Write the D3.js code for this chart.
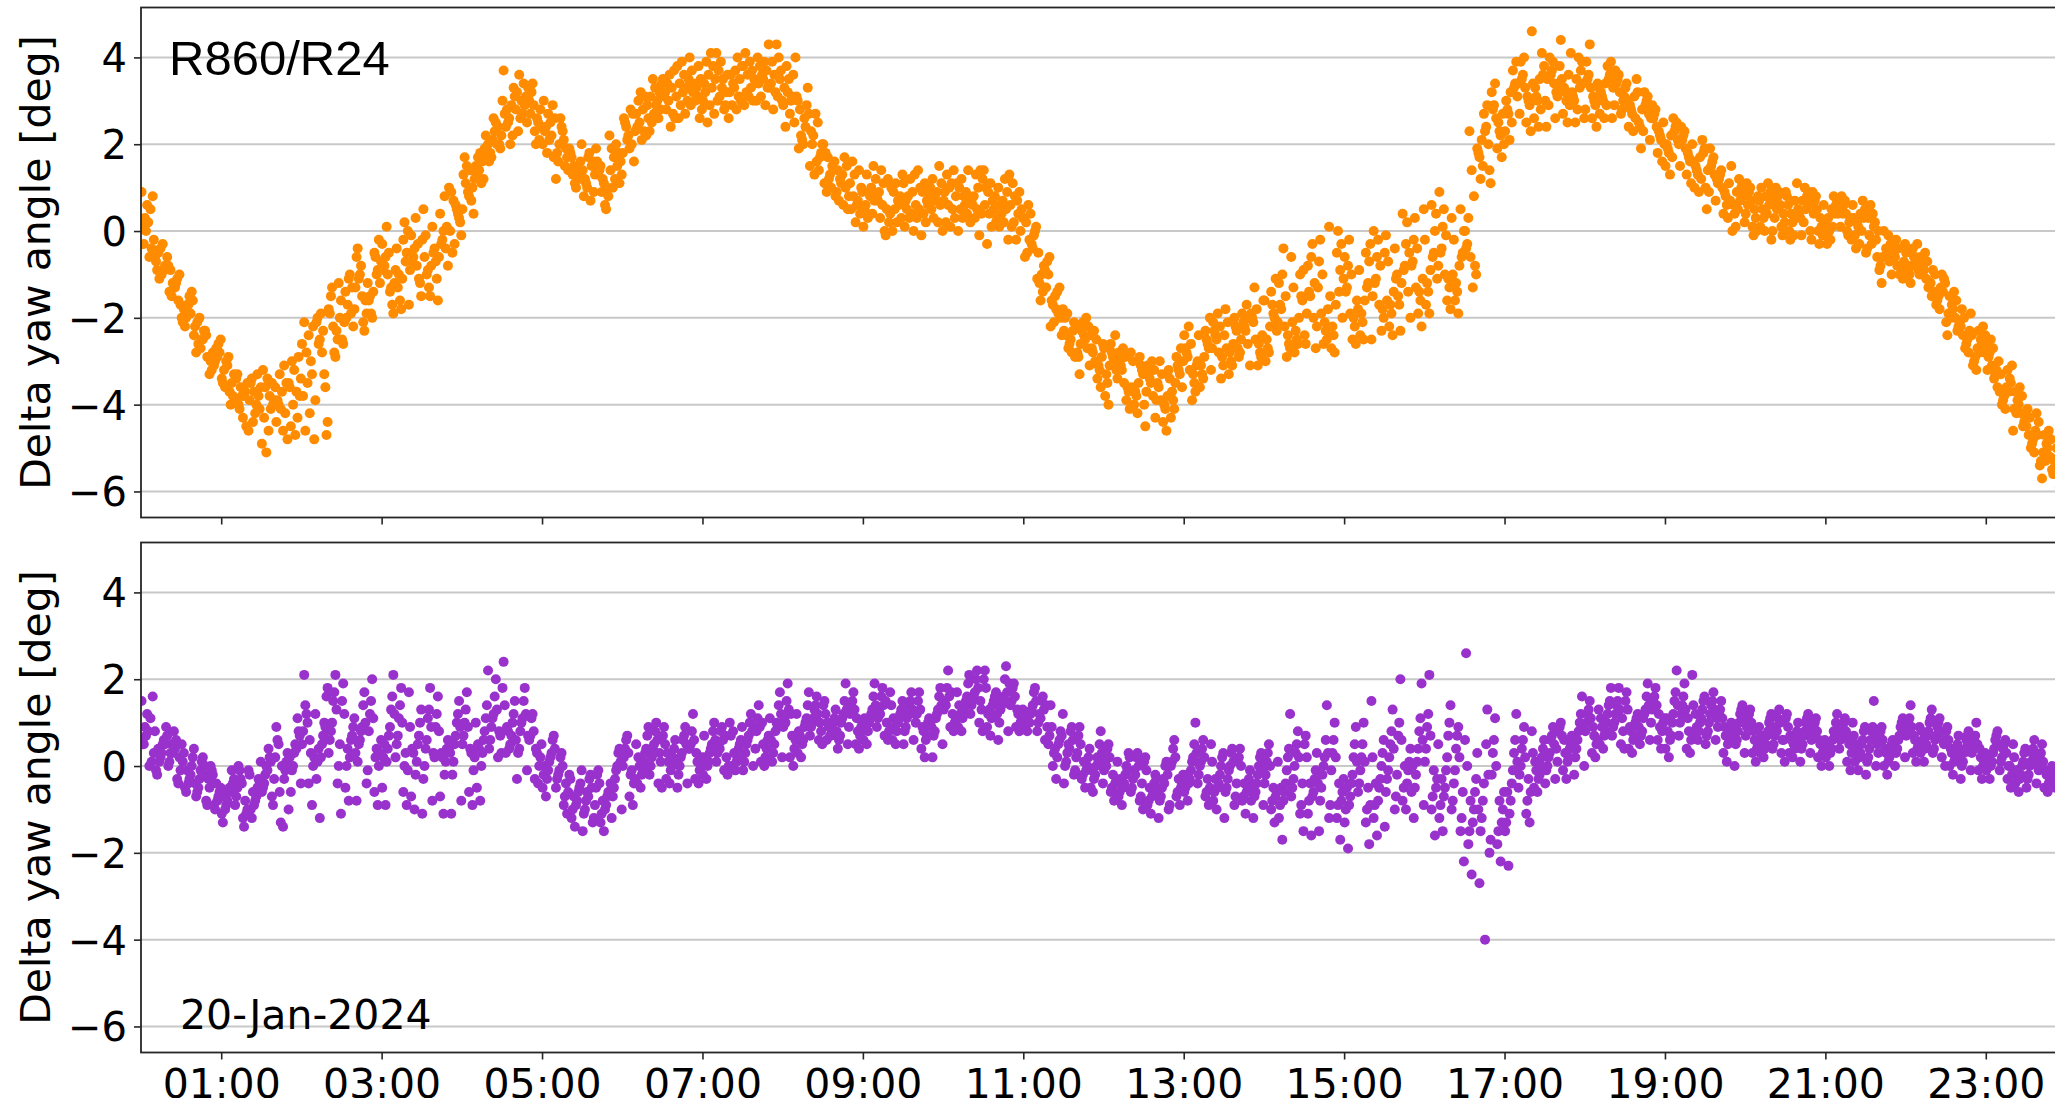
<!DOCTYPE html>
<html>
<head>
<meta charset="utf-8">
<script src="https://cdn.jsdelivr.net/npm/d3@7"></script>
<style>
  html, body { margin: 0; padding: 0; background: #ffffff; }
  svg { display: block; }
</style>
</head>
<body>
<svg id="chart" width="2055" height="1098"></svg>
<script>
// ---- Data ---------------------------------------------------------------
// Day of the measurements (UTC). Each row holds the samples of one
// 10-minute block (block 0 starts at 00:00).
const dayLabel = "20-Jan-2024";
const blockMinutes = 10;

// Delta yaw angle [deg], receiver pair R860/R24 (upper panel)
const yawR860 = [
[0.9,0.6,0.8,0.3,0.5,0.1,0.2,-0.2,0.0,-0.4,-0.3,-0.6],
[-0.3,-0.6,-0.4,-0.8,-0.5,-0.9,-0.7,-1.0,-0.6,-1.1,-0.8,-0.9],
[-0.9,-1.2,-0.8,-1.3,-1.0,-1.5,-1.1,-1.4,-1.3,-1.7,-1.2,-1.6],
[-1.4,-1.8,-1.5,-2.0,-1.7,-1.6,-2.2,-1.9,-2.1,-1.7,-2.4,-2.0],
[-2.0,-2.3,-2.1,-2.5,-2.2,-2.7,-2.4,-2.6,-2.3,-2.8,-2.5,-2.9],
[-2.5,-2.8,-2.6,-3.0,-2.7,-2.9,-3.1,-2.8,-3.2,-2.9,-3.3,-3.0],
[-2.9,-3.3,-3.0,-3.5,-3.2,-3.7,-3.4,-3.1,-3.8,-3.6,-4.0,-3.5],
[-3.4,-3.8,-3.5,-4.1,-3.7,-3.3,-4.3,-3.9,-3.6,-4.5,-4.0,-3.8],
[-3.3,-3.9,-4.2,-3.6,-4.4,-3.8,-3.5,-4.0,-4.6,-3.7,-4.1,-3.4],
[-3.6,-4.1,-3.2,-4.6,-3.9,-5.1,-3.5,-4.3,-3.8,-4.9,-3.4,-4.0],
[-3.5,-4.0,-3.1,-4.4,-3.7,-4.8,-3.3,-4.2,-3.9,-4.6,-3.6,-4.1],
[-3.2,-3.8,-3.0,-4.3,-3.6,-4.7,-3.4,-4.0,-2.9,-4.5,-3.7,-3.5],
[-2.6,-3.5,-2.2,-4.6,-3.0,-3.8,-2.4,-4.8,-2.8,-3.3,-2.1,-4.2],
[-2.3,-3.9,-1.9,-4.7,-2.6,-3.3,-2.1,-2.8,-4.4,-2.5,-3.6,-2.0],
[-1.5,-2.3,-1.8,-2.8,-2.0,-1.3,-2.5,-1.9,-2.9,-1.6,-2.2,-1.2],
[-1.3,-2.1,-1.0,-2.5,-1.7,-2.2,-1.4,-1.9,-2.6,-1.1,-1.8,-2.0],
[-1.0,-1.6,-0.4,-2.1,-1.3,-0.8,-1.9,-1.1,-2.3,-0.6,-1.5,-1.2],
[-0.7,-1.4,-0.2,-1.9,-1.0,-1.6,-0.5,-1.2,-2.0,-0.9,-1.5,-0.6],
[-0.5,-1.2,0.1,-1.7,-0.8,-1.4,-0.3,-1.0,-1.9,-0.6,-1.3,-0.9],
[-0.4,-1.1,0.0,-1.6,-0.7,-1.3,-0.2,-0.9,-1.8,-0.5,-1.0,0.2],
[-0.3,-0.9,0.3,-1.5,-0.6,-1.1,-0.1,-0.8,-1.7,-0.4,-1.2,-0.7],
[-0.1,-0.8,0.5,-1.3,-0.4,-1.0,0.1,-0.6,-1.5,-0.2,-0.9,-0.5],
[0.1,-0.6,0.8,-1.1,-0.2,-0.8,0.4,-0.4,-1.6,0.0,-0.7,-0.3],
[-0.3,0.2,-0.5,0.4,0.0,0.6,-0.1,0.7,0.3,0.9,0.5,1.0],
[0.5,0.9,0.4,1.1,0.7,1.3,0.8,1.2,1.5,1.0,1.7,1.4],
[1.2,1.5,1.1,1.7,1.4,1.9,1.3,1.6,2.0,1.8,2.2,1.7],
[1.7,2.0,1.6,2.3,1.9,2.1,2.4,1.8,2.5,2.2,2.6,2.0],
[2.2,2.7,2.0,3.0,2.5,3.3,2.4,2.9,3.7,2.6,3.1,2.8],
[2.6,3.1,2.3,3.4,2.8,3.0,2.5,3.6,2.9,3.2,2.7,3.3],
[2.4,2.9,2.1,3.2,2.6,3.0,2.3,2.8,3.4,2.5,2.7,2.0],
[2.1,2.6,1.8,2.9,2.3,2.5,2.0,2.7,1.7,2.4,2.2,3.0],
[1.8,2.3,1.4,2.6,1.9,1.6,2.1,1.2,2.4,1.7,2.0,1.5],
[1.3,1.8,1.0,2.0,1.5,1.2,1.7,1.4,1.9,1.1,1.6,1.3],
[1.1,1.5,0.8,1.8,1.3,1.0,1.6,1.2,0.7,1.4,1.7,0.9],
[1.0,1.4,0.6,1.6,1.2,0.8,1.5,0.5,1.3,1.1,1.9,0.9],
[1.2,1.6,1.0,1.8,1.4,2.0,1.3,1.7,1.1,1.9,1.5,2.2],
[1.8,2.2,1.6,2.4,2.0,2.6,1.9,2.3,2.1,2.7,2.5,2.8],
[2.3,2.7,2.1,2.9,2.5,3.1,2.4,2.8,2.6,3.2,2.2,3.0],
[2.5,3.0,2.3,3.3,2.8,3.5,2.6,3.1,2.9,3.4,2.7,3.2],
[2.7,3.2,2.4,3.5,3.0,3.7,2.8,3.3,3.1,3.6,2.6,3.4],
[2.9,3.3,2.6,3.6,3.1,3.9,3.0,3.4,2.7,3.8,3.2,3.5],
[2.8,3.4,2.6,3.7,3.1,4.0,3.0,3.5,3.2,3.8,2.9,3.3],
[2.9,3.5,2.5,3.8,3.2,4.1,3.0,3.6,2.7,3.9,3.3,3.4],
[3.0,3.5,2.6,3.9,3.2,3.7,2.8,4.1,3.3,3.6,3.1,2.9],
[3.1,3.6,2.8,3.8,3.3,3.5,2.9,4.0,3.2,3.7,3.0,3.4],
[3.2,3.7,2.9,3.9,3.4,3.6,3.0,4.1,3.3,3.8,3.1,3.5],
[3.3,3.8,2.9,4.0,3.5,4.3,3.1,3.7,3.4,3.9,3.0,3.6],
[3.2,3.7,2.8,4.0,3.4,4.3,3.0,3.6,3.5,3.9,3.1,3.3],
[2.9,3.5,2.5,3.8,3.1,3.3,2.7,4.0,3.2,3.6,2.4,3.0],
[2.6,3.1,2.1,3.3,2.8,2.4,3.0,2.0,2.7,2.2,2.9,1.9],
[2.0,2.5,1.5,2.7,1.8,2.2,1.4,2.3,1.6,2.0,1.3,1.7],
[1.4,1.8,1.0,2.0,1.2,1.6,0.9,1.5,1.1,1.3,0.8,1.7],
[1.1,1.5,0.7,1.7,0.9,1.3,0.5,1.2,1.0,1.4,0.6,0.8],
[0.9,1.3,0.4,1.6,0.7,1.1,0.2,1.0,0.8,1.4,0.5,0.6],
[0.8,1.2,0.3,1.5,0.6,1.0,0.1,0.9,0.7,1.3,0.4,0.5],
[0.7,1.1,0.2,1.4,0.5,0.9,0.0,0.8,0.6,1.2,0.3,-0.1],
[0.6,1.0,0.2,1.3,0.5,0.8,0.0,0.7,0.4,1.1,0.3,0.9],
[0.5,0.9,0.1,1.2,0.6,0.8,0.0,0.7,0.4,1.1,0.3,1.3],
[0.6,1.0,0.2,1.4,0.4,0.8,-0.1,0.7,0.5,1.1,0.3,0.9],
[0.7,1.1,0.3,1.5,0.5,0.9,0.0,0.8,0.6,1.2,0.2,1.0],
[0.7,1.0,0.3,1.3,0.5,0.9,0.1,0.8,0.6,1.4,0.2,1.1],
[0.6,1.1,0.3,1.4,0.5,0.9,0.0,0.8,0.7,1.2,0.4,1.0],
[0.6,1.0,0.2,1.3,0.4,0.8,-0.1,0.7,0.5,1.2,0.3,1.4],
[0.5,1.0,0.1,1.4,0.4,0.8,-0.3,0.7,0.6,1.1,0.2,0.9],
[0.4,0.9,0.1,1.2,0.3,0.7,-0.2,0.6,0.5,1.0,0.2,1.3],
[0.3,0.8,0.0,1.1,0.4,0.6,-0.2,0.5,0.2,0.9,0.1,0.7],
[0.4,0.1,0.6,-0.1,0.2,-0.3,0.3,-0.2,0.0,-0.5,-0.4,-0.6],
[-0.5,-0.8,-0.6,-1.0,-0.7,-1.2,-0.9,-1.1,-1.4,-1.0,-1.6,-1.3],
[-1.3,-1.6,-1.4,-1.8,-1.5,-2.0,-1.7,-1.9,-2.2,-1.8,-2.4,-2.1],
[-1.9,-2.3,-2.0,-2.5,-2.2,-2.7,-2.1,-2.4,-2.8,-2.3,-2.6,-2.9],
[-2.2,-2.6,-2.0,-2.9,-2.4,-3.1,-2.3,-2.7,-3.3,-2.5,-2.8,-2.1],
[-2.5,-2.9,-2.3,-3.2,-2.7,-3.4,-2.6,-3.0,-3.6,-2.8,-3.1,-2.4],
[-2.7,-3.1,-2.4,-3.5,-2.9,-3.8,-2.6,-3.2,-4.0,-3.0,-3.3,-2.8],
[-2.9,-3.4,-2.7,-3.7,-3.1,-3.9,-2.8,-3.5,-4.1,-3.2,-3.6,-3.0],
[-3.0,-3.5,-2.8,-3.8,-3.2,-4.0,-2.9,-3.6,-4.2,-3.3,-3.7,-3.1],
[-3.2,-3.7,-3.0,-4.0,-3.4,-4.3,-3.1,-3.8,-4.5,-3.5,-3.9,-3.3],
[-3.3,-3.8,-3.0,-4.1,-3.5,-4.4,-3.2,-3.9,-4.6,-3.6,-4.0,-3.4],
[-3.0,-3.5,-2.7,-3.9,-3.2,-4.3,-2.9,-3.6,-4.1,-3.3,-3.7,-3.1],
[-2.6,-3.1,-2.2,-3.5,-2.8,-3.9,-2.4,-3.2,-3.7,-2.9,-3.3,-2.7],
[-2.4,-2.9,-2.0,-3.3,-2.6,-3.6,-2.3,-3.0,-3.4,-2.7,-3.1,-2.5],
[-2.2,-2.7,-1.9,-3.1,-2.4,-3.4,-2.1,-2.8,-3.2,-2.5,-2.9,-2.3],
[-2.1,-2.6,-1.8,-3.0,-2.3,-3.3,-2.0,-2.7,-3.1,-2.4,-2.8,-2.2],
[-2.0,-2.5,-1.7,-2.9,-2.2,-3.1,-1.9,-2.6,-2.8,-2.3,-2.7,-2.1],
[-1.8,-2.4,-1.3,-2.8,-2.0,-3.1,-1.6,-2.5,-2.9,-2.1,-2.6,-1.9],
[-1.6,-2.2,-1.1,-2.7,-1.9,-3.0,-1.4,-2.3,-2.8,-2.0,-2.5,-1.7],
[-1.5,-2.1,-0.4,-2.6,-1.8,-2.9,-1.2,-2.2,-2.7,-1.0,-2.4,-1.7],
[-1.3,-2.0,-0.6,-2.5,-1.6,-2.8,-1.0,-2.1,-2.6,-0.9,-2.3,-1.5],
[-1.2,-1.9,-0.3,-2.4,-1.5,-2.7,-0.8,-2.0,-2.6,-0.6,-2.2,-1.4],
[-1.0,-1.8,-0.2,-2.3,-1.3,-2.6,0.1,-1.9,-2.5,-0.7,-2.1,-1.5],
[-1.1,-1.7,-0.3,-2.4,-1.4,-2.7,-0.5,-2.0,-2.8,-0.9,-2.2,0.0],
[-1.0,-1.6,-0.2,-2.2,-1.3,-2.5,-0.6,-1.9,-2.6,-0.8,-2.0,-1.4],
[-0.9,-1.6,-0.3,-2.1,-1.2,-2.4,-0.5,-1.8,-2.5,-0.7,-1.9,-1.3],
[-0.8,-1.5,-0.2,-2.0,-1.1,-2.3,0.0,-1.7,-2.5,-0.6,-1.8,-1.2],
[-0.7,-1.4,-0.1,-1.9,-1.0,-2.2,-0.4,-1.6,-2.4,-0.5,-1.7,-1.1],
[-0.5,-1.2,0.2,-1.7,-0.8,-2.0,0.4,-1.4,-2.3,-0.3,-1.5,-0.9],
[-0.4,-1.1,0.3,-1.6,-0.7,-1.9,0.5,-1.3,-2.2,-0.2,-1.4,-0.8],
[-0.2,-0.9,0.4,-1.4,-0.5,-1.7,0.6,-1.1,-1.9,0.0,-1.2,-0.6],
[-0.1,-0.8,0.5,-1.3,-0.4,-1.6,0.9,-1.0,-1.8,0.1,-1.1,-0.5],
[-0.2,-0.8,0.3,-1.4,-0.5,-1.6,0.5,-1.0,-1.9,0.0,-1.2,-0.6],
[-0.8,-0.3,-1.3,0.0,-0.6,-1.0,0.3,0.8,-0.4,1.4,1.9,2.3],
[1.5,2.0,1.2,2.4,1.8,2.7,1.4,2.1,2.9,1.7,2.3,1.1],
[2.0,2.6,1.7,2.9,2.3,3.2,1.9,2.7,3.4,2.2,2.8,2.5],
[2.5,3.1,2.1,3.4,2.8,3.7,2.3,3.2,3.9,2.7,3.3,3.0],
[2.7,3.3,2.3,3.6,3.0,3.9,2.5,3.4,4.0,2.9,3.5,3.1],
[2.8,3.4,2.4,3.8,3.1,4.1,2.6,3.5,4.6,3.0,3.6,3.3],
[2.9,3.4,2.4,3.7,3.1,4.0,2.6,3.5,3.9,3.0,3.6,3.2],
[2.9,3.5,2.5,3.8,3.2,4.1,2.7,3.6,4.4,3.0,3.4,3.3],
[2.8,3.4,2.5,3.7,3.1,4.0,2.6,3.5,3.9,3.0,3.3,3.2],
[2.8,3.3,2.4,3.6,3.0,3.9,2.6,3.4,4.3,2.9,3.5,3.1],
[2.9,3.3,2.6,3.6,3.1,3.8,2.7,3.4,3.9,3.0,3.5,3.2],
[2.9,3.2,2.6,3.5,3.0,3.7,2.7,3.3,3.6,3.1,3.4,2.8],
[2.6,3.0,2.3,3.3,2.8,3.5,2.4,3.1,3.4,2.7,3.2,2.9],
[2.3,2.7,1.9,3.0,2.5,3.2,2.1,2.8,3.1,2.4,2.9,2.6],
[2.0,2.4,1.6,2.7,2.2,2.9,1.8,2.5,2.8,2.1,2.6,2.3],
[1.7,2.1,1.3,2.4,1.9,2.6,1.5,2.2,2.5,1.8,2.3,2.0],
[1.5,1.9,1.1,2.2,1.7,2.4,1.3,2.0,2.3,1.6,2.1,1.8],
[1.2,1.6,0.9,1.9,1.4,2.1,1.0,1.7,2.0,1.3,1.8,1.5],
[0.9,1.3,0.5,1.6,1.1,1.9,0.7,1.4,1.7,1.0,1.5,1.2],
[0.7,1.0,0.3,1.3,0.8,1.5,0.4,1.1,1.4,0.6,1.2,0.9],
[0.5,0.8,0.1,1.0,0.6,1.2,0.2,0.9,1.1,0.4,0.7,0.0],
[0.4,0.7,0.0,0.9,0.5,1.1,0.1,0.8,1.0,0.3,0.6,-0.1],
[0.4,0.7,0.0,0.9,0.5,1.1,0.1,0.8,-0.2,0.3,0.6,1.0],
[0.3,0.6,0.0,0.8,0.4,1.0,0.1,0.7,0.9,0.2,0.5,-0.1],
[0.3,0.6,-0.1,0.9,0.4,1.1,0.0,0.7,0.8,0.2,0.5,-0.2],
[0.2,0.6,-0.1,0.8,0.4,1.0,0.0,0.7,0.9,0.3,0.5,-0.2],
[0.2,0.5,-0.1,0.7,0.3,0.9,0.0,0.6,0.8,0.1,0.4,-0.3],
[0.1,0.4,-0.2,0.6,0.3,0.8,-0.1,0.5,0.7,0.0,0.4,-0.3],
[0.1,0.4,-0.2,0.6,0.2,0.8,0.0,0.5,0.7,0.3,0.4,-0.1],
[0.0,0.3,-0.3,0.5,0.2,0.7,-0.1,0.4,0.6,0.1,0.3,-0.4],
[-0.1,0.2,-0.4,0.4,0.0,0.6,-0.2,0.3,0.1,-0.5,-0.3,-0.6],
[-0.3,-0.6,-0.1,-0.8,-0.4,-1.0,0.0,-0.7,-1.2,-0.5,-0.9,-0.6],
[-0.4,-0.7,-0.2,-0.9,-0.5,-1.0,-0.3,-0.8,-1.1,-0.6,-0.8,-0.5],
[-0.5,-0.8,-0.3,-1.0,-0.6,-1.1,-0.4,-0.9,-1.2,-0.7,-0.9,-0.6],
[-0.7,-1.0,-0.5,-1.2,-0.8,-1.3,-0.6,-1.1,-1.5,-0.9,-1.2,-1.0],
[-1.0,-1.3,-0.9,-1.5,-1.1,-1.7,-1.0,-1.4,-1.8,-1.2,-1.6,-1.4],
[-1.6,-1.9,-1.4,-2.1,-1.7,-2.3,-1.5,-2.0,-2.4,-1.8,-2.2,-2.0],
[-2.0,-2.3,-1.8,-2.5,-2.1,-2.7,-1.9,-2.4,-2.8,-2.2,-2.6,-2.4],
[-2.4,-2.7,-2.2,-2.9,-2.5,-3.1,-2.3,-2.8,-3.2,-2.6,-3.0,-2.8],
[-2.7,-3.0,-2.5,-3.2,-2.9,-3.4,-2.6,-3.1,-3.6,-2.8,-3.3,-3.2],
[-3.3,-3.6,-3.1,-3.8,-3.4,-4.0,-3.2,-3.7,-4.1,-3.5,-3.9,-3.7],
[-3.8,-4.1,-3.6,-4.3,-3.9,-4.5,-3.7,-4.2,-4.6,-4.0,-4.4,-4.2],
[-4.3,-4.6,-4.1,-4.8,-4.4,-5.0,-4.2,-4.7,-5.1,-4.5,-4.9,-4.7],
[-4.8,-5.1,-4.6,-5.3,-4.9,-5.5,-4.7,-5.2,-5.7,-5.0,-5.4,-5.3],
[-5.2,-5.5,-5.0,-5.7,-5.3,-5.9,-5.1,-5.6,-6.0,-5.4,-5.8,-5.6]
];

// Delta yaw angle [deg], lower panel
const yawLower = [
[1.5,1.2,1.6,0.9,1.1,0.6,0.8,0.3,0.7,0.1,0.5,0.0],
[0.5,0.8,0.2,0.9,0.4,0.6,-0.1,0.3,0.7,0.1,0.5,-0.2],
[0.3,0.6,0.0,0.8,0.2,0.5,-0.3,0.1,0.4,-0.1,0.3,-0.4],
[0.0,0.3,-0.3,0.5,-0.1,0.2,-0.5,-0.2,0.1,-0.4,0.4,-0.6],
[-0.3,0.0,-0.6,0.2,-0.4,-0.1,-0.8,-0.5,-0.2,-0.7,0.1,-0.9],
[-0.5,-0.2,-0.7,0.0,-0.4,-0.3,-0.9,-0.6,-0.1,-0.8,-0.5,-1.0],
[-0.6,-0.3,-0.9,-0.1,-0.7,-0.5,-1.1,-0.8,-0.4,-1.0,-0.6,-1.3],
[-0.7,-0.4,-1.0,-0.1,-0.8,-0.5,-1.2,-0.9,-0.3,-1.1,0.0,-1.4],
[-0.5,-0.2,-0.8,0.1,-0.6,-0.3,-1.0,-0.7,-0.1,-0.9,-0.4,-1.2],
[-0.2,0.1,-0.5,0.4,-0.3,0.0,-0.7,-0.4,0.2,-0.6,-0.1,-0.9],
[0.1,0.5,-0.3,0.9,0.0,0.3,-0.6,-0.1,0.6,-1.4,0.2,-1.3],
[0.3,0.7,-0.1,1.1,0.2,0.5,-0.4,0.0,0.8,-0.6,0.4,-1.0],
[0.5,1.0,0.0,1.4,0.3,0.8,-0.4,0.2,1.2,-0.9,2.1,0.6],
[0.7,1.2,0.2,1.6,0.4,1.0,-0.3,0.5,1.8,-1.2,0.9,0.1],
[0.8,1.3,0.3,1.7,0.5,1.0,-0.4,0.6,2.1,-1.1,1.5,0.0],
[0.7,1.2,0.2,1.5,0.4,0.9,-0.5,0.6,1.9,-0.8,1.1,0.0],
[0.6,1.0,0.1,1.4,0.3,0.8,-0.4,0.5,1.7,-0.8,0.9,-0.1],
[0.6,1.1,0.0,1.5,0.4,0.8,-0.6,0.3,2.0,-0.9,1.2,0.2],
[0.7,1.2,0.1,1.6,0.5,0.9,-0.5,0.4,2.1,-0.9,1.3,0.2],
[0.5,1.0,-0.1,1.4,0.3,0.7,-0.6,0.2,1.8,-0.9,1.1,0.0],
[0.5,0.9,-0.2,1.3,0.3,0.7,-0.7,0.1,1.7,-1.0,1.0,0.4],
[0.4,0.9,-0.3,1.3,0.2,0.6,-0.8,0.0,1.8,-1.1,1.1,0.3],
[0.4,0.8,-0.2,1.2,0.2,0.6,-0.7,0.1,1.6,-1.1,0.9,0.3],
[0.5,0.9,-0.2,1.2,0.3,0.7,-0.8,0.1,1.5,-1.1,1.0,0.4],
[0.5,0.9,-0.1,1.3,0.3,0.7,-0.6,0.2,1.7,-0.9,1.0,0.4],
[0.6,1.0,0.0,1.4,0.4,0.8,-0.5,0.3,2.2,-0.8,1.1,0.5],
[0.9,1.3,0.4,1.6,0.7,1.1,0.2,0.6,2.0,0.3,1.2,0.8],
[1.0,1.4,0.5,1.8,0.8,1.2,0.3,0.7,2.4,0.4,1.5,0.9],
[0.8,1.2,0.3,1.5,0.6,1.0,-0.1,0.4,1.8,-0.3,1.1,0.7],
[0.5,0.8,0.0,1.1,0.3,0.6,-0.3,0.2,1.2,-0.4,0.7,0.4],
[0.1,0.4,-0.3,0.6,0.0,0.2,-0.5,-0.1,0.7,-0.7,0.3,-0.2],
[-0.3,0.0,-0.6,0.2,-0.4,-0.2,-0.9,-0.5,0.3,-1.1,-0.1,-0.7],
[-0.6,-0.3,-0.9,-0.1,-0.7,-0.5,-1.2,-0.8,-0.2,-1.4,-0.4,-1.0],
[-0.8,-0.5,-1.1,-0.3,-0.9,-0.6,-1.3,-1.0,-0.2,-1.5,-0.7,-1.2],
[-0.7,-0.4,-1.0,-0.2,-0.8,-0.6,-1.3,-0.9,-0.1,-1.5,-0.5,-1.1],
[-0.3,0.1,-0.7,0.3,-0.4,-0.1,-1.0,-0.5,0.4,-1.2,0.0,-0.6],
[0.0,0.3,-0.4,0.6,-0.1,0.2,-0.7,-0.3,0.7,-0.9,0.4,-0.2],
[0.1,0.5,-0.2,0.7,0.0,0.3,-0.4,-0.1,0.9,-0.5,0.4,0.2],
[0.2,0.6,-0.2,0.8,0.1,0.4,-0.4,0.0,1.0,-0.5,0.5,0.3],
[0.2,0.5,-0.1,0.7,0.1,0.4,-0.3,0.0,0.9,-0.4,0.6,0.3],
[0.2,0.5,-0.2,0.7,0.1,0.3,-0.4,0.0,0.9,-0.5,0.6,0.4],
[0.2,0.6,-0.1,0.8,0.1,0.4,-0.3,0.0,1.2,-0.4,0.5,0.3],
[0.3,0.6,0.0,0.8,0.2,0.4,-0.2,0.1,1.0,-0.3,0.5,0.7],
[0.3,0.6,0.0,0.8,0.2,0.5,-0.1,0.1,0.9,-0.2,0.4,0.7],
[0.4,0.7,0.1,0.9,0.3,0.5,0.0,0.2,1.0,-0.1,0.6,0.8],
[0.5,0.8,0.1,1.0,0.4,0.6,0.0,0.3,1.2,-0.1,0.7,0.9],
[0.6,0.9,0.2,1.1,0.5,0.7,0.1,0.4,1.4,0.0,0.8,1.0],
[0.8,1.2,0.3,1.4,0.6,1.0,0.2,0.5,1.7,0.1,0.9,1.1],
[0.9,1.3,0.4,1.5,0.7,1.1,0.2,0.6,1.9,0.0,1.0,1.2],
[0.9,1.2,0.5,1.4,0.7,1.0,0.3,0.6,1.7,0.2,1.1,0.8],
[1.0,1.2,0.7,1.4,0.8,1.1,0.6,0.9,1.6,0.5,1.3,1.0],
[1.0,1.2,0.7,1.4,0.9,1.1,0.6,0.8,1.5,0.7,1.3,1.0],
[1.0,1.3,0.6,1.5,0.8,1.1,0.5,0.7,1.9,0.4,1.2,0.9],
[1.0,1.3,0.7,1.5,0.8,1.2,0.5,0.9,1.7,0.4,1.4,1.1],
[1.1,1.4,0.8,1.6,0.9,1.2,0.6,1.0,1.9,0.5,1.3,1.1],
[1.1,1.4,0.8,1.6,1.0,1.3,0.7,0.9,1.8,0.6,1.2,1.5],
[1.1,1.4,0.8,1.5,0.9,1.2,0.6,1.0,1.7,0.5,1.3,1.1],
[1.1,1.3,0.8,1.5,1.0,1.2,0.6,0.9,1.7,0.5,1.4,1.2],
[1.0,1.3,0.6,1.5,0.8,1.1,0.4,0.7,1.7,0.2,1.2,0.9],
[1.1,1.4,0.7,1.6,0.9,1.2,0.5,0.8,1.8,0.2,1.3,1.0],
[1.3,1.6,1.0,1.8,1.2,1.5,0.9,1.1,2.2,0.8,1.4,1.7],
[1.4,1.7,1.1,1.9,1.2,1.5,0.9,1.3,2.1,0.8,1.6,1.4],
[1.5,1.8,1.2,2.0,1.3,1.6,1.0,1.4,2.2,0.8,1.7,1.5],
[1.5,1.8,1.1,2.0,1.3,1.6,0.9,1.4,2.2,0.7,1.7,1.2],
[1.4,1.7,1.0,2.0,1.2,1.5,0.8,1.3,2.3,0.6,1.6,1.9],
[1.3,1.6,1.0,1.8,1.2,1.4,0.9,1.1,1.9,0.8,1.5,1.3],
[1.2,1.5,1.0,1.7,1.1,1.3,0.9,1.0,1.8,0.8,1.4,1.2],
[1.0,1.3,0.7,1.5,0.9,1.2,0.6,0.8,1.6,0.5,1.1,1.4],
[0.6,0.9,0.2,1.2,0.4,0.8,0.0,0.5,1.4,-0.3,0.7,0.3],
[0.3,0.6,0.0,0.8,0.2,0.5,-0.2,0.1,0.9,-0.4,0.4,-0.1],
[0.2,0.5,-0.1,0.7,0.1,0.4,-0.3,0.0,0.9,-0.5,0.3,-0.2],
[0.0,0.3,-0.3,0.5,-0.1,0.2,-0.4,-0.2,0.8,-0.6,0.1,-0.5],
[-0.1,0.2,-0.4,0.4,-0.2,0.1,-0.6,-0.3,0.5,-0.8,0.0,-0.5],
[-0.2,0.1,-0.5,0.3,-0.3,0.0,-0.7,-0.4,0.2,-0.9,-0.1,-0.6],
[-0.3,0.0,-0.6,0.2,-0.4,-0.1,-0.8,-0.5,0.3,-1.0,-0.2,-0.7],
[-0.4,-0.1,-0.7,0.1,-0.5,-0.2,-0.9,-0.6,0.2,-1.1,-0.3,-0.8],
[-0.5,-0.2,-0.8,0.0,-0.6,-0.3,-1.0,-0.7,0.1,-1.2,-0.4,-0.9],
[-0.2,0.2,-0.5,0.4,-0.3,0.0,-0.7,-0.4,0.6,-0.9,0.1,-0.6],
[-0.1,0.3,-0.4,0.5,-0.2,0.1,-0.6,-0.3,1.0,-0.8,0.2,-0.5],
[-0.2,0.2,-0.5,0.4,-0.3,0.0,-0.7,-0.4,0.6,-0.9,0.1,-0.6],
[-0.2,0.1,-0.5,0.3,-0.3,0.0,-0.8,-0.4,0.5,-1.0,0.2,-0.6],
[-0.3,0.1,-0.6,0.3,-0.4,-0.1,-0.9,-0.5,0.4,-1.2,0.0,-0.7],
[-0.3,0.0,-0.6,0.2,-0.4,-0.1,-0.8,-0.5,0.4,-1.1,0.1,-0.7],
[-0.4,-0.1,-0.7,0.2,-0.5,-0.2,-0.9,-0.6,0.3,-1.2,0.0,-0.8],
[-0.4,0.0,-0.7,0.3,-0.5,-0.2,-1.0,-0.6,0.5,-1.3,0.1,-0.8],
[-0.4,0.1,-0.8,0.4,-0.5,-0.1,-1.2,-0.6,1.2,-1.7,0.2,-0.9],
[-0.3,0.2,-0.7,0.5,-0.4,0.0,-1.1,-0.5,0.8,-1.5,0.3,-0.9],
[-0.3,0.2,-0.7,0.5,-0.4,-0.1,-1.1,-0.6,0.7,-1.6,0.3,-0.8],
[-0.2,0.3,-0.8,0.6,-0.4,0.0,-1.2,-0.5,1.4,-1.5,0.2,-0.9],
[-0.3,0.2,-0.8,0.6,-0.4,-0.1,-1.2,-0.6,1.0,-1.7,0.3,-0.9],
[-0.4,0.1,-0.9,0.5,-0.5,-0.2,-1.3,-0.7,0.9,-1.9,0.2,-1.0],
[-0.4,0.1,-0.9,0.5,-0.5,-0.1,-1.3,-0.6,1.0,-1.8,0.2,-1.0],
[-0.3,0.2,-0.8,0.6,-0.4,0.0,-1.2,-0.5,1.5,-1.6,0.3,-0.9],
[-0.1,0.4,-0.6,0.8,-0.2,0.2,-1.0,-0.3,1.3,-1.4,0.5,-0.7],
[0.1,0.6,-0.4,1.0,0.0,0.4,-0.8,-0.1,2.0,-1.0,0.7,-0.5],
[0.1,0.6,-0.5,1.1,0.0,0.4,-0.9,-0.2,1.9,-1.2,0.8,-0.6],
[0.1,0.7,-0.5,1.2,-0.1,0.4,-1.0,-0.3,2.1,-1.6,0.9,-0.7],
[-0.1,0.5,-0.7,1.0,-0.3,0.2,-1.2,-0.5,1.4,-1.5,0.7,-0.9],
[-0.4,0.2,-1.0,0.7,-0.6,-0.1,-1.5,-0.8,0.9,-2.2,0.4,-1.2],
[-0.6,0.0,-1.3,0.6,-0.8,-0.3,-1.8,-1.0,2.6,-2.5,0.3,-1.5],
[-0.8,-0.2,-1.5,0.5,-1.0,-0.4,-2.0,-1.2,1.3,-2.7,-4.0,-1.7],
[-0.6,0.0,-1.3,0.6,-0.8,-0.2,-1.8,-1.0,1.1,-2.2,0.3,-1.5],
[-0.4,0.1,-1.1,0.6,-0.6,-0.1,-1.5,-0.8,1.2,-2.3,0.3,-1.3],
[-0.2,0.2,-0.6,0.6,-0.3,0.0,-1.1,-0.5,0.9,-1.3,0.4,-0.8],
[0.0,0.3,-0.3,0.6,-0.1,0.2,-0.5,-0.2,0.8,-0.6,0.4,0.1],
[0.2,0.5,-0.1,0.7,0.1,0.3,-0.3,0.0,0.9,-0.4,0.6,0.4],
[0.4,0.7,0.1,0.9,0.3,0.5,-0.1,0.2,1.0,-0.3,0.8,0.6],
[0.6,0.9,0.2,1.2,0.5,0.8,0.0,0.4,1.6,-0.2,1.0,0.7],
[0.8,1.1,0.5,1.3,0.7,1.0,0.3,0.6,1.5,0.2,1.2,0.9],
[1.0,1.3,0.7,1.5,0.9,1.2,0.5,0.8,1.8,0.4,1.4,1.1],
[1.0,1.3,0.7,1.5,0.8,1.2,0.5,0.9,1.8,0.4,1.4,1.1],
[1.0,1.3,0.6,1.5,0.8,1.1,0.4,0.7,1.7,0.3,1.2,0.9],
[1.1,1.4,0.7,1.6,0.9,1.2,0.6,0.8,1.9,0.5,1.3,1.0],
[1.1,1.4,0.8,1.6,0.9,1.3,0.6,1.0,1.8,0.4,1.5,1.2],
[1.0,1.4,0.6,1.7,0.8,1.2,0.4,0.7,2.2,0.2,1.5,1.1],
[1.0,1.3,0.6,1.6,0.8,1.2,0.4,0.7,1.9,0.3,1.4,1.1],
[1.1,1.4,0.8,1.6,0.9,1.3,0.7,1.0,2.1,0.6,1.5,1.2],
[1.0,1.3,0.7,1.5,0.9,1.2,0.6,0.8,1.7,0.5,1.4,1.1],
[0.8,1.1,0.5,1.3,0.7,1.0,0.3,0.6,1.5,0.1,1.2,0.9],
[0.8,1.1,0.5,1.3,0.7,1.0,0.3,0.6,1.4,0.0,1.2,0.9],
[0.7,1.0,0.4,1.2,0.6,0.9,0.3,0.5,1.3,0.1,1.1,0.8],
[0.7,0.9,0.4,1.1,0.6,0.8,0.3,0.5,1.2,0.2,1.0,0.7],
[0.7,1.0,0.4,1.1,0.6,0.9,0.3,0.5,1.3,0.1,0.8,0.6],
[0.7,0.9,0.5,1.1,0.6,0.8,0.3,0.4,1.2,0.2,1.0,0.7],
[0.7,0.9,0.4,1.1,0.6,0.8,0.3,0.5,1.2,0.1,1.0,0.6],
[0.6,0.8,0.3,1.0,0.5,0.7,0.2,0.4,1.1,0.0,0.9,0.6],
[0.6,0.9,0.3,1.0,0.5,0.8,0.2,0.4,1.2,0.0,0.7,0.5],
[0.6,0.8,0.3,1.0,0.5,0.7,0.1,0.4,1.1,-0.1,0.9,0.6],
[0.5,0.7,0.2,0.9,0.4,0.6,0.1,0.3,1.0,-0.1,0.8,0.5],
[0.4,0.7,0.1,0.9,0.3,0.6,0.0,0.2,1.5,-0.2,0.8,0.5],
[0.4,0.6,0.1,0.8,0.3,0.5,0.0,0.2,0.9,-0.2,0.7,0.4],
[0.6,0.8,0.3,1.0,0.5,0.7,0.2,0.4,1.1,0.0,0.9,0.6],
[0.7,0.9,0.4,1.1,0.6,0.8,0.3,0.5,1.4,0.1,1.0,0.7],
[0.7,0.9,0.4,1.1,0.6,0.8,0.3,0.5,1.3,0.1,1.0,0.8],
[0.6,0.8,0.3,1.0,0.5,0.7,0.2,0.4,1.1,0.0,0.9,0.6],
[0.4,0.6,0.1,0.8,0.3,0.5,0.0,0.2,0.9,-0.2,0.7,0.4],
[0.3,0.5,0.0,0.7,0.2,0.4,-0.1,0.1,0.8,-0.3,0.6,0.3],
[0.3,0.5,0.0,0.7,0.2,0.4,-0.1,0.1,1.0,-0.3,0.6,0.4],
[0.3,0.5,0.0,0.7,0.2,0.4,-0.1,0.1,0.8,-0.3,0.6,0.2],
[0.1,0.3,-0.2,0.5,0.0,0.2,-0.3,-0.1,0.6,-0.5,0.4,0.0],
[0.0,0.2,-0.3,0.4,-0.1,0.1,-0.4,-0.2,0.5,-0.6,0.3,-0.1],
[0.0,0.2,-0.3,0.4,-0.1,0.1,-0.4,-0.2,0.6,-0.5,0.3,0.0],
[-0.1,0.1,-0.4,0.3,-0.2,0.0,-0.5,-0.3,0.5,-0.6,0.2,-0.1],
[-0.1,0.1,-0.4,0.3,-0.2,0.0,-0.5,-0.3,0.4,-0.5,0.2,-0.1]
];

// Axis ticks
const hourTickLabels = ["01:00","03:00","05:00","07:00","09:00","11:00","13:00","15:00","17:00","19:00","21:00","23:00"];
const yTickValues = [-6, -4, -2, 0, 2, 4];
const yLimits = [-6.6, 5.15];
const yAxisTitle = "Delta yaw angle [deg]";

// Panels: upper one carries the receiver-pair tag, lower one the date
const panels = [
  { series: yawR860, color: "#ff8c00", tag: "R860/R24" },
  { series: yawLower, color: "#9932cc", tag: dayLabel }
];

// ---- Layout -------------------------------------------------------------
const svg = d3.select("#chart");
const plotLeft = 141, plotWidth = 1925;
const panelTops = [7.5, 542.5];
const panelHeight = 510;
const tickLen = 7;
const dejavu = "'DejaVu Sans', 'Noto Sans', sans-serif";
const arial = "'Liberation Sans', Arial, sans-serif";

const dayStart = new Date(Date.UTC(2024, 0, 20, 0, 0));
const dayEnd = new Date(Date.UTC(2024, 0, 21, 0, 0));
const x = d3.scaleUtc().domain([dayStart, dayEnd]).range([plotLeft, plotLeft + plotWidth]);
const parseHM = d3.utcParse("%Y-%m-%d %H:%M");
const tickDates = hourTickLabels.map(s => parseHM("2024-01-20 " + s));

// Samples of a block are taken at evenly spaced instants inside the block;
// the stored order is interleaved (stride 5 over 12 slots, shifted per block).
function samplesOf(rows) {
  const pts = [];
  rows.forEach((row, i) => {
    const n = row.length;
    row.forEach((v, j) => {
      const slot = (5 * j + 7 * i) % n;
      const minutes = i * blockMinutes + (slot + 0.5) * blockMinutes / n;
      pts.push({ t: new Date(dayStart.getTime() + minutes * 60000), v });
    });
  });
  return pts.sort((a, b) => a.t - b.t);
}

panels.forEach((p, k) => {
  const top = panelTops[k];
  const y = d3.scaleLinear().domain(yLimits).range([top + panelHeight, top]);
  const g = svg.append("g");

  const clipId = "clip" + k;
  svg.append("clipPath").attr("id", clipId)
    .append("rect").attr("x", plotLeft).attr("y", top).attr("width", plotWidth).attr("height", panelHeight);

  // horizontal grid
  g.append("g").selectAll("line").data(yTickValues).join("line")
    .attr("x1", plotLeft).attr("x2", plotLeft + plotWidth)
    .attr("y1", d => y(d)).attr("y2", d => y(d))
    .attr("stroke", "#c8c8c8").attr("stroke-width", 2);

  // scatter
  g.append("g").attr("clip-path", `url(#${clipId})`)
    .selectAll("circle").data(samplesOf(p.series)).join("circle")
    .attr("cx", d => x(d.t)).attr("cy", d => y(d.v)).attr("r", 5)
    .attr("fill", p.color);

  // frame
  g.append("rect").attr("x", plotLeft).attr("y", top).attr("width", plotWidth).attr("height", panelHeight)
    .attr("fill", "none").attr("stroke", "#262626").attr("stroke-width", 1.8);

  // y axis
  const yAxis = d3.axisLeft(y).tickValues(yTickValues).tickSize(tickLen).tickPadding(7)
    .tickFormat(d => d3.format("d")(d).replace("-", "\u2212"));
  const ya = g.append("g").attr("transform", `translate(${plotLeft},0)`).call(yAxis);
  ya.select(".domain").remove();
  ya.selectAll(".tick line").attr("stroke", "#262626").attr("stroke-width", 1.6);
  ya.selectAll(".tick text").attr("font-family", dejavu).attr("font-size", 40).attr("fill", "#000").attr("dy", "0.36em");

  // x axis (labels only on the lower panel)
  const xAxis = d3.axisBottom(x).tickValues(tickDates).tickSize(tickLen).tickPadding(7)
    .tickFormat(k === panels.length - 1 ? d3.utcFormat("%H:%M") : () => "");
  const xa = g.append("g").attr("transform", `translate(0,${top + panelHeight})`).call(xAxis);
  xa.select(".domain").remove();
  xa.selectAll(".tick line").attr("stroke", "#262626").attr("stroke-width", 1.6);
  xa.selectAll(".tick text").attr("font-family", dejavu).attr("font-size", 41).attr("fill", "#000").attr("dy", "0.76em");

  // y axis title
  g.append("text")
    .attr("transform", `translate(50,${top + panelHeight / 2}) rotate(-90)`)
    .attr("text-anchor", "middle")
    .attr("font-family", dejavu).attr("font-size", 41).attr("fill", "#000")
    .text(yAxisTitle);

  // in-panel tag
  if (k === 0) {
    g.append("text").attr("x", 169).attr("y", 75)
      .attr("font-family", arial).attr("font-size", 49).attr("fill", "#000")
      .text(p.tag);
  } else {
    g.append("text").attr("x", 180).attr("y", 1029)
      .attr("font-family", dejavu).attr("font-size", 41).attr("fill", "#000")
      .text(p.tag);
  }
});
</script>
</body>
</html>
